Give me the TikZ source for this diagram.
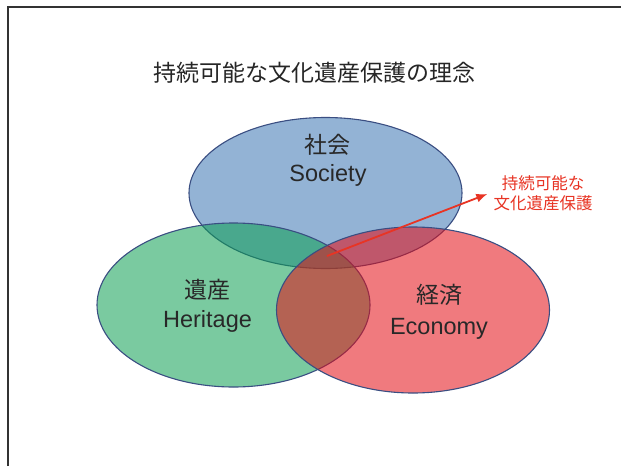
\documentclass[tikz,border=0pt]{standalone}
\usepackage{fontspec}
\setmainfont{Liberation Sans}
\newfontfamily\cjk{Noto Sans CJK JP}
\usetikzlibrary{shapes.geometric,arrows.meta}
\definecolor{socC}{RGB}{60,117,180}
\definecolor{herC}{RGB}{13,160,82}
\definecolor{ecoC}{RGB}{228,13,21}
\definecolor{edgeC}{RGB}{58,78,130}
\definecolor{txtC}{RGB}{40,40,40}
\definecolor{goalC}{RGB}{232,52,36}
\tikzset{
  circ/.style={ellipse, draw=edgeC, line width=1.1pt, fill opacity=0.55, draw opacity=1,
    minimum width=273pt, inner sep=0pt},
  jlab/.style={font=\cjk\fontsize{23}{27}\selectfont, text=txtC, inner sep=0pt},
  elab/.style={font=\fontsize{23.5}{27}\selectfont, text=txtC, inner sep=0pt, anchor=base},
  frameline/.style={draw=black!80, line width=2pt},
}
\begin{document}
\begin{tikzpicture}[x=1pt,y=-1pt]
\useasboundingbox (0,0) rectangle (621,466);
\fill[white] (0,0) rectangle (621,466);
\draw[frameline] (8,466) -- (8,6.5) -- (621,6.5);
\node[font=\cjk\fontsize{23}{27}\selectfont, text=black!85, inner sep=0pt] (title) at (314,73) {持続可能な文化遺産保護の理念};
\node[circ, fill=socC, minimum height=151pt] (soc) at (325.5,193) {};
\node[circ, fill=herC, minimum height=164pt] (her) at (233.5,305) {};
\node[circ, fill=ecoC, minimum height=166pt] (eco) at (413,310) {};
\node[jlab] (socj) at (327,145) {社会};
\node[elab] (soce) at (328,181) {Society};
\node[jlab] (herj) at (207,290) {遺産};
\node[elab] (here) at (207.5,327.5) {Heritage};
\node[jlab] (ecoj) at (439,295) {経済};
\node[elab] (ecoe) at (439,334) {Economy};
\node[font=\cjk\fontsize{16.5}{20}\selectfont, text=goalC, align=center, inner sep=2pt] (goal) at (543,193) {持続可能な\\文化遺産保護};
\coordinate (start) at (327,256);
\draw[goalC, line width=1.8pt, -{Latex[length=11pt,width=9pt]}] (start) -- ([xshift=-4pt,yshift=-1pt]goal.west);
\end{tikzpicture}
\end{document}
